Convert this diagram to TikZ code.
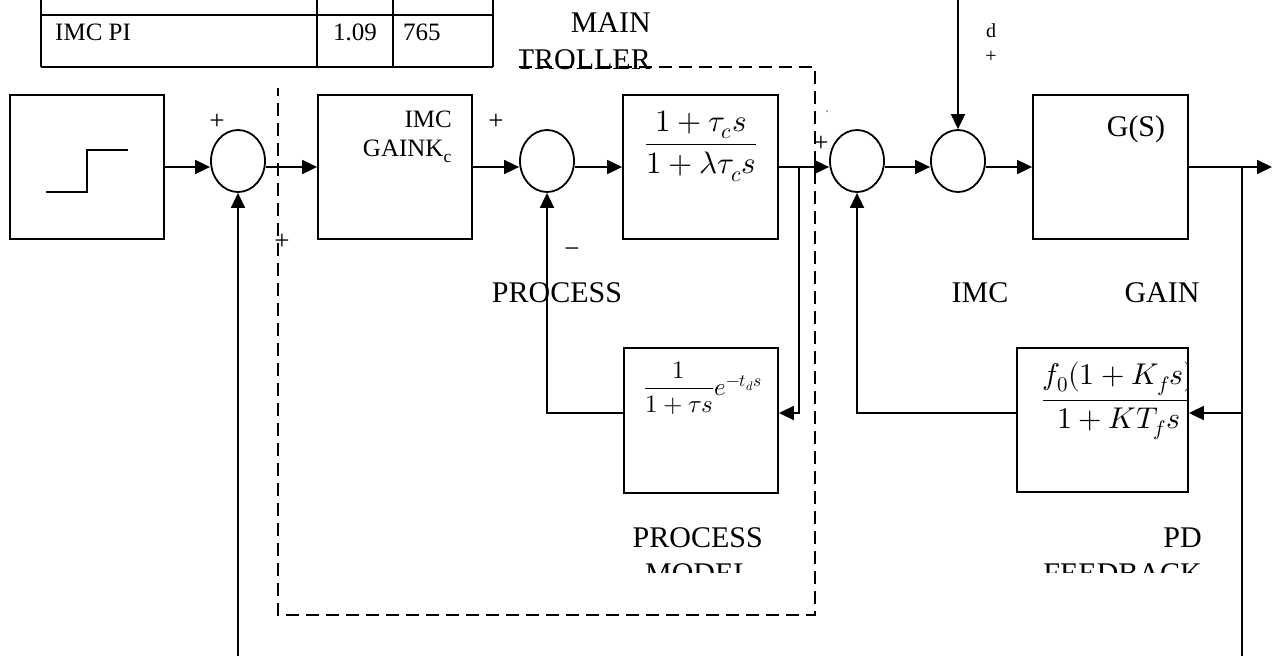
\documentclass[tikz,border=0pt]{standalone}
\usepackage{unicode-math}
\setmainfont{Liberation Serif}
\usetikzlibrary{arrows.meta, positioning, calc, shapes.geometric}

\begin{document}
\begin{tikzpicture}[x=1pt, y=-1pt, >={Triangle[length=15pt,width=14pt]},
    block/.style={draw, line width=1.8pt, minimum width=154pt, minimum height=144pt, inner sep=0pt},
    sumpt/.style={draw, ellipse, line width=1.8pt, minimum width=54pt, minimum height=62pt, inner sep=0pt},
    wire/.style={line width=1.8pt},
    lbl/.style={font=\fontsize{30}{34}\selectfont, inner sep=0pt},
    small/.style={font=\fontsize{25}{29}\selectfont, inner sep=0pt},
    sign/.style={font=\fontsize{27}{30}\selectfont, inner sep=0pt},
    dashbox/.style={line width=1.8pt, dash pattern=on 13pt off 7pt}]

    \useasboundingbox (0,0) rectangle (1274,656);

    % Table (upper part cut off)
    \foreach \x in {41,317,393,493}{
        \draw[line width=1.6pt] (\x,-5) -- (\x,67);
    }
    \foreach \y in {15,67}{
        \draw[line width=1.6pt] (41,\y) -- (493,\y);
    }
    \node[small, anchor=base west] (tname) at (55,40) {IMC PI};
    \node[small, anchor=base west] (tkc) at (333,40) {1.09};
    \node[small, anchor=base west] (tti) at (403,40) {765};

    % Main controller frame
    \draw[dashbox] (519,67) -- (815,67) -- (815,615) -- (278,615) -- (278,88);
    \node[lbl, anchor=base east] (mainl) at (651,32) {MAIN};
    \begin{scope}
        \clip (519,0) rectangle (1274,656);
        \node[lbl, anchor=base east] (ctrll) at (651,69) {CONTROLLER};
    \end{scope}

    % Blocks
    \node[block] (step) at (87,167) {};
    \node[block] (imc) at (395,167) {};
    \node[block, minimum width=155pt] (filt) at (700.5,167) {};
    \node[block, minimum width=155pt] (plant) at (1110.5,167) {};
    \node[block, minimum height=145pt] (model) at (701,420.5) {};
    \node[block, minimum width=171pt] (pdfb) at (1102.5,420) {};

    % Summing junctions
    \node[sumpt] (sum1) at (238,161) {};
    \node[sumpt] (sum2) at (547,161) {};
    \node[sumpt] (sum3) at (857,161) {};
    \node[sumpt] (sum4) at (958,161) {};

    % Step input
    \draw[wire] ($(step.center)+(-41,25)$) -- ++(41,0) -- ++(0,-42) -- ++(41,0);

    % Block contents
    \node[small, anchor=base east] (imcl1) at (452,127) {IMC};
    \node[small, anchor=base east] (imcl2) at (452,156) {GAINK\textsubscript{c}};
    \node[font=\fontsize{31}{36}\selectfont] (filttf) at (701,146)
        {$\displaystyle\frac{1+\tau_c s}{1+\lambda\tau_c s}$};
    \node[font=\fontsize{25}{30}\selectfont] (modeltf) at (703,388)
        {$\displaystyle\frac{1}{1+\tau s}e^{-t_d s}$};
    \node[lbl, anchor=base] (gsl) at (1136,136) {G(S)};
    \begin{scope}
        \clip (pdfb.north west) rectangle (pdfb.south east);
        \node[font=\fontsize{30}{36}\selectfont] (pdtf) at (1119,401)
            {$\displaystyle\frac{f_0(1+K_f s)}{1+KT_f s}$};
    \end{scope}

    % Signs
    \foreach \x/\y [count=\i] in {217/122, 282/242, 496/122, 821/144}{
        \node[sign] (plus\i) at (\x,\y) {+};
    }
    \node[sign] (minus1) at (572,253) {−};
    \node[font=\fontsize{20}{24}\selectfont, inner sep=0pt, anchor=base west] (dl) at (986,37) {d};
    \node[font=\fontsize{20}{24}\selectfont, inner sep=0pt] (dplus) at (991,57) {+};
    \fill[gray] (827,111) circle (1pt);

    % Labels
    \node[lbl, anchor=base] (procl) at (557,302) {PROCESS};
    \node[lbl, anchor=base] (imcl) at (980,302) {IMC};
    \node[lbl, anchor=base] (gainl) at (1162,302) {GAIN};
    \node[lbl, anchor=base east] (pml1) at (763,547) {PROCESS};
    \node[lbl, anchor=base east] (pdl1) at (1202,547) {PD};
    \begin{scope}
        \clip (0,0) rectangle (1274,572);
        \node[lbl, anchor=base east] (pml2) at (752,583) {MODEL};
        \node[lbl, anchor=base east] (pdl2) at (1202,583) {FEEDBACK};
    \end{scope}

    % Helper points
    \coordinate (tap1) at (799,167);
    \coordinate (tap2) at (1242,167);
    \coordinate (yout) at (1272,167);
    \coordinate (fbrow) at (0,413);
    \coordinate (ybot) at (0,656);
    \coordinate (dtop) at (958,0);

    % Forward path
    \draw[wire,->] (step.east) -- (step.east -| sum1.west);
    \draw[wire,->] (sum1.east |- imc.west) -- (imc.west);
    \draw[wire,->] (imc.east) -- (imc.east -| sum2.west);
    \draw[wire,->] (sum2.east |- filt.west) -- (filt.west);
    \draw[wire,->] (filt.east) -- (filt.east -| sum3.west);
    \draw[wire,->] (sum3.east |- plant.west) -- (sum4.west |- plant.west);
    \draw[wire,->] (sum4.east |- plant.west) -- (plant.west);
    \draw[wire,->] (plant.east) -- (yout);
    \draw[wire,->] (dtop) -- (sum4.north);

    % Feedback paths
    \draw[wire,->] (tap1) -- (tap1 |- fbrow) -- (model.east |- fbrow);
    \draw[wire,->] (model.west |- fbrow) -| (sum2.south);
    \draw[wire] (tap2) -- (tap2 |- ybot);
    \draw[wire,->] (tap2 |- fbrow) -- (pdfb.east |- fbrow);
    \draw[wire,->] (pdfb.west |- fbrow) -| (sum3.south);
    \draw[wire,->] (sum1.south |- ybot) -- (sum1.south);

\end{tikzpicture}
\end{document}
